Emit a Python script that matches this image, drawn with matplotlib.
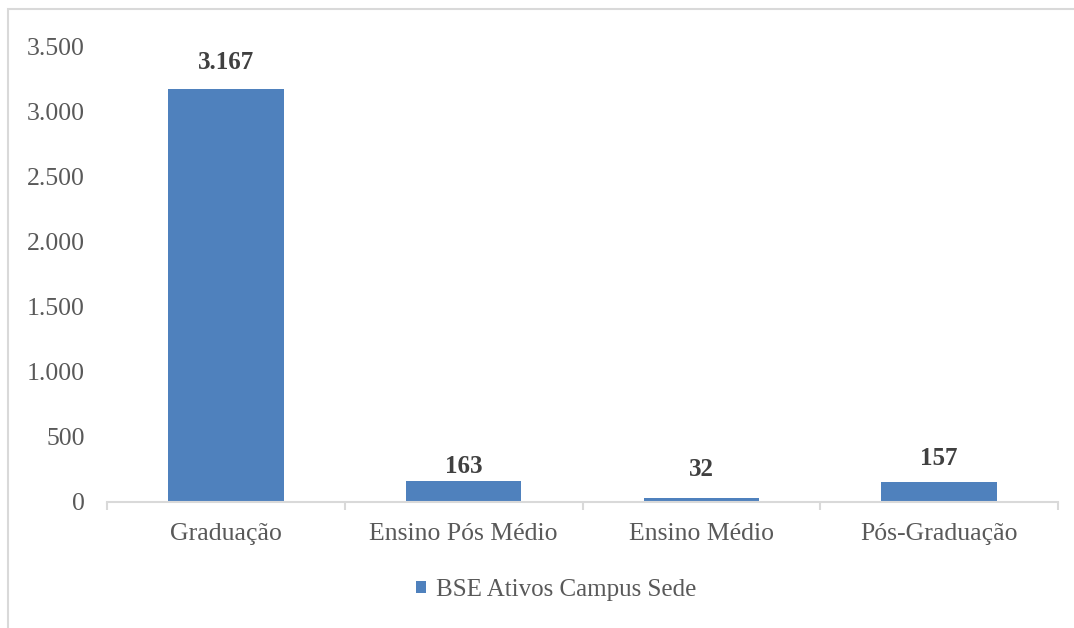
import matplotlib
matplotlib.use("Agg")
import matplotlib.pyplot as plt
from matplotlib.patches import Rectangle
from matplotlib.ticker import FuncFormatter, FixedLocator

categories = ["Graduação", "Ensino Pós Médio", "Ensino Médio", "Pós-Graduação"]
values = [3167, 163, 32, 157]
series_name = "BSE Ativos Campus Sede"
yticks = [0, 500, 1000, 1500, 2000, 2500, 3000, 3500]

bar_color = "#4F81BD"
grid_gray = "#D9D9D9"
text_gray = "#595959"
label_color = "#404040"
font = ["Liberation Serif", "DejaVu Serif"]
label_offsets_px = [27, 14, 28, 23]

W, H = 1074, 628
fig = plt.figure(figsize=(W / 100, H / 100), dpi=100)
fig.patch.set_facecolor("white")

# outer frame
fig.patches.append(Rectangle((8 / W, -0.1), 1.2, 1 - 9 / H + 0.1,
                             transform=fig.transFigure, fill=False,
                             edgecolor=grid_gray, linewidth=1.5))

ax = fig.add_axes([107 / W, (H - 502) / H, (1058 - 107) / W, 456 / H])
x = list(range(len(categories)))
bars = ax.bar(x, values, width=0.485, color=bar_color, label=series_name, zorder=2)

ax.set_xlim(-0.5, len(categories) - 0.5)
ax.set_ylim(0, 3500)
ax.set_yticks(yticks)
ax.yaxis.set_major_formatter(FuncFormatter(lambda v, p: f"{int(v):,}".replace(",", ".")))
ax.set_xticks(x)
ax.set_xticklabels(categories)
ax.xaxis.set_minor_locator(FixedLocator([i - 0.5 for i in range(len(categories) + 1)]))

for s in ["top", "right", "left"]:
    ax.spines[s].set_visible(False)
ax.spines["bottom"].set_color(grid_gray)
ax.spines["bottom"].set_linewidth(1.5)

ax.tick_params(axis="y", length=0, pad=16, labelsize=18.5, labelcolor=text_gray)
ax.tick_params(axis="x", which="major", length=0, pad=15, labelsize=18.5, labelcolor=text_gray)
ax.tick_params(axis="x", which="minor", length=5.5, width=1.5, color=grid_gray)
for lbl in ax.get_xticklabels() + ax.get_yticklabels():
    lbl.set_family(font)

for i, (b, v) in enumerate(zip(bars, values)):
    ax.annotate(f"{v:,}".replace(",", "."), (b.get_x() + b.get_width() / 2, v),
                xytext=(0, label_offsets_px[i] * 0.72), textcoords="offset points",
                ha="center", va="center", fontsize=18, fontweight="bold",
                color=label_color, family=font)

leg = fig.legend(handles=[bars], labels=[series_name], loc="center",
                 bbox_to_anchor=(556 / W, 1 - 590 / H), frameon=False,
                 prop={"family": font, "size": 18},
                 handlelength=0.4, handleheight=0.4, handletextpad=0.4)
for t in leg.get_texts():
    t.set_color(text_gray)

fig.savefig("out.png", dpi=100, facecolor="white")
